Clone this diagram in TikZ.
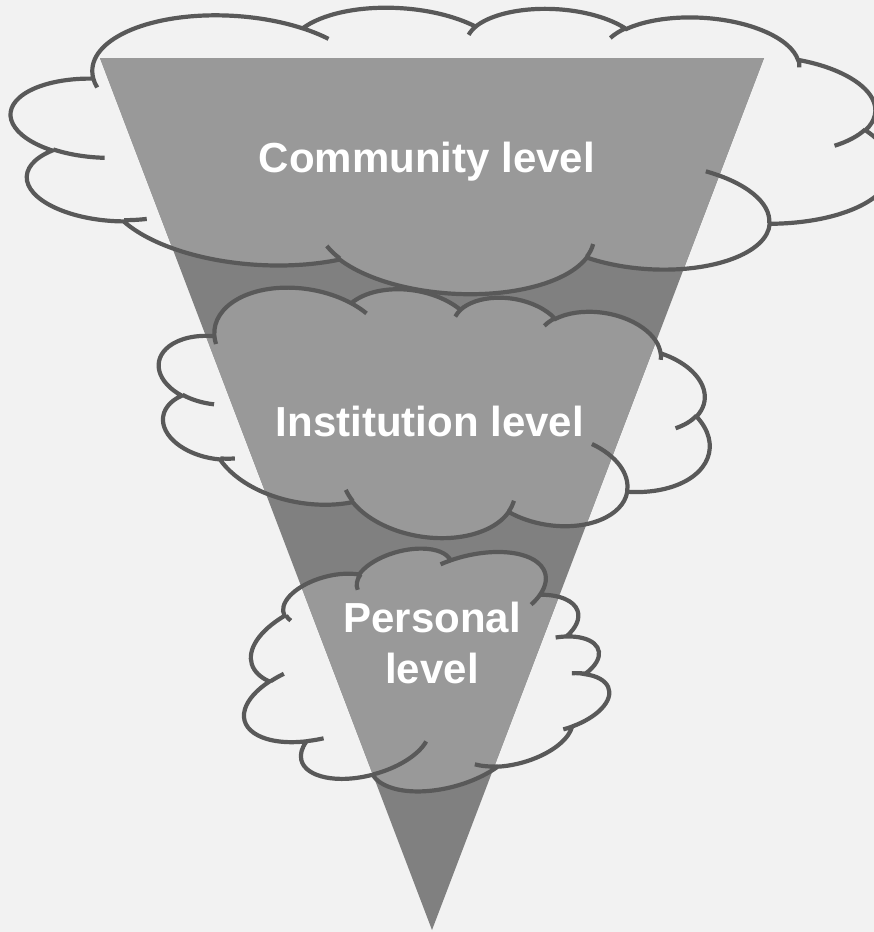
\documentclass[tikz,border=0pt]{standalone}
\usepackage{fontspec}
\setmainfont{Liberation Sans}
\usetikzlibrary{positioning}

\definecolor{backgray}{HTML}{F2F2F2}
\definecolor{funnelgray}{HTML}{808080}
\definecolor{puffgray}{HTML}{999999}
\definecolor{rimgray}{HTML}{595959}

\tikzset{
	rim/.style={draw=rimgray, line width=4.2pt}, % Contorno de las nubes
	level/.style={text=white, font=\bfseries\fontsize{42}{51}\selectfont, align=center, inner sep=0pt}, % Texto de cada nivel
	puffarc/.style={x radius=\rx, y radius=\ry, start angle=\ta, delta angle=\da} % Arco de la nube
}

% Contorno exterior de la nube (unidades: 1/100 del preset, 432 x 432)
\newcommand{\puffrim}{%
	(39,143.7)
	\foreach \rx/\ry/\sa/\sw [evaluate=\sa as \ta using {atan2(\rx*sin(\sa),\ry*cos(\sa))},
		evaluate=\sa as \tb using {atan2(\rx*sin(\sa+\sw),\ry*cos(\sa+\sw))},
		evaluate=\sa as \da using {mod((\tb)-(\ta)+720,360)}] in
		{67.53/91.90/-190.4875/123.7805, 53.33/72.67/-144.1024/89.9452,
		 43.65/59.45/-145.8079/99.7230, 48.57/65.95/-130.9861/117.2417,
		 53.33/72.73/-78.7089/109.0269, 67.75/92.20/-46.2673/130.2690,
		 57.85/78.67/0.6250/114.0333, 67.52/92.15/22.4516/115.1726,
		 77.20/105.43/66.2426/75.7110, 43.60/59.18/-274.9421/146.7356,
		 43.45/59.45/-246.8285/152.5189}
	{ arc[puffarc] } -- cycle}

% Ganchos interiores de la nube
\newcommand{\puffhooks}{%
	\foreach \mx/\my/\rx/\ry/\sa/\sw [evaluate=\sa as \ta using {atan2(\rx*sin(\sa),\ry*cos(\sa))},
		evaluate=\sa as \tb using {atan2(\rx*sin(\sa+\sw),\ry*cos(\sa+\sw))},
		evaluate=\sa as \da using {mod((\tb)-(\ta)+720,360)}] in
		{46.93/261.77/43.45/59.45/86.7420/26.4295, 69.28/348.99/43.60/59.18/73.6105/11.4475,
		 164.78/390.90/67.52/92.15/137.6242/14.0811, 288.27/347.51/67.52/92.15/6.4533/15.9984,
		 341.29/229.54/57.85/78.67/-70.2924/70.9174, 417.98/153.54/53.33/72.73/30.3180/27.7515,
		 383.24/54.26/48.57/65.95/-13.7443/14.8524, 290.78/39.52/48.57/65.95/-149.1815/18.1943,
		 221.41/47.20/43.65/59.45/-163.4943/17.6864, 140.00/51.92/67.53/91.90/-66.7070/12.3194,
		 41.27/157.89/67.53/91.90/157.6544/11.8582}
	{ (\mx,\my) arc[puffarc] }}

\begin{document}
\begin{tikzpicture}[x=1pt, y=-1pt]
	\fill[backgray] (0,0) rectangle (874,932);
	\useasboundingbox (0,0) rectangle (874,932);
	\coordinate (topleft) at (100,58);
	\coordinate (topright) at (764,58);
	\coordinate (tip) at (432,930);
	\fill[funnelgray] (topleft) -- (topright) -- (tip) -- cycle;
	% Relleno de las nubes solo dentro del embudo
	\begin{scope}
		\clip (topleft) -- (topright) -- (tip) -- cycle;
		\foreach \cx/\cy/\w/\h/\r [evaluate=\w as \sx using \w/432, evaluate=\h as \sy using \h/432] in
			{451/147.3/882/290/-3.35, 433.5/411.6/557/249/-8.8, 419/671/241/360/-75}
			\fill[puffgray, shift={(\cx,\cy)}, rotate=\r, x=\sx pt, y=-\sy pt, shift={(-216,-216)}] \puffrim;
	\end{scope}
	\foreach \cx/\cy/\w/\h/\r [evaluate=\w as \sx using \w/432, evaluate=\h as \sy using \h/432] in
		{451/147.3/882/290/-3.35, 433.5/411.6/557/249/-8.8, 419/671/241/360/-75}
		\draw[rim, shift={(\cx,\cy)}, rotate=\r, x=\sx pt, y=-\sy pt, shift={(-216,-216)}] \puffrim \puffhooks;
	\node[level, anchor=base] (community) at (427,172) {Community level};
	\node[level, anchor=base] (institution) at (430,436) {Institution level};
	\node[level, anchor=north] (personal) at (432,602) {Personal\\level};
\end{tikzpicture}
\end{document}
